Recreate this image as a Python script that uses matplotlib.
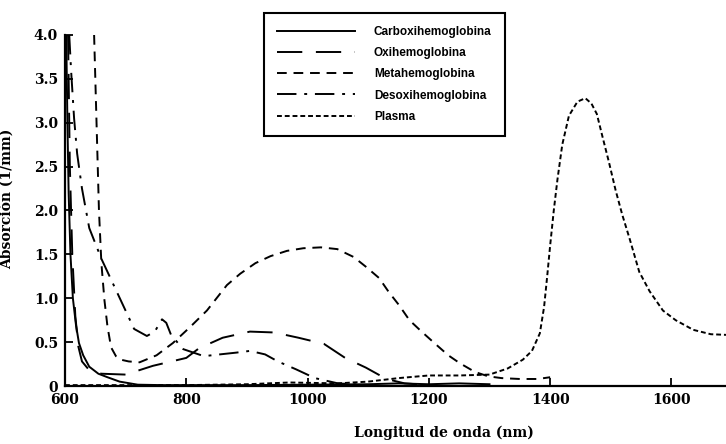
import matplotlib
matplotlib.use("Agg")
import matplotlib.pyplot as plt
import numpy as np

# datos
wl_carboxi = [602, 604, 606, 609, 613, 618, 623, 630, 640, 655, 670, 690, 720, 760, 800, 900, 1000, 1100, 1150, 1200, 1250, 1300]
ab_carboxi = [4.0, 3.0, 2.2, 1.5, 1.0, 0.7, 0.49, 0.35, 0.22, 0.14, 0.10, 0.05, 0.015, 0.01, 0.01, 0.01, 0.015, 0.02, 0.03, 0.02, 0.03, 0.02]

wl_oxi = [605, 608, 612, 617, 622, 628, 640, 660, 700, 745, 800, 821, 860, 905, 945, 985, 1027, 1062, 1096, 1130, 1160, 1200]
ab_oxi = [4.0, 2.5, 1.5, 0.8, 0.45, 0.28, 0.18, 0.14, 0.13, 0.23, 0.32, 0.43, 0.55, 0.62, 0.61, 0.55, 0.48, 0.32, 0.21, 0.08, 0.03, 0.01]

wl_meta = [648, 652, 656, 660, 665, 670, 676, 684, 692, 705, 723, 751, 778, 806, 834, 867, 889, 914, 939, 966, 993,
           1022, 1049, 1076, 1096, 1118, 1134, 1151, 1168, 1188, 1209, 1232, 1251, 1276, 1298, 1320, 1350, 1380, 1400]
ab_meta = [4.0, 3.0, 2.0, 1.4, 0.98, 0.68, 0.44, 0.34, 0.30, 0.28, 0.27, 0.35, 0.49, 0.67, 0.86, 1.15, 1.28, 1.40, 1.48, 1.54, 1.57,
           1.58, 1.56, 1.47, 1.36, 1.23, 1.07, 0.92, 0.75, 0.62, 0.49, 0.35, 0.26, 0.16, 0.11, 0.09, 0.08, 0.08, 0.10]

wl_desoxi = [607, 610, 615, 620, 628, 640, 660, 687, 714, 735, 748, 760, 767, 775, 795, 829, 855, 882, 905, 930, 951, 981, 1012, 1050, 1100]
ab_desoxi = [4.0, 3.6, 3.05, 2.65, 2.25, 1.8, 1.45, 1.05, 0.65, 0.57, 0.62, 0.76, 0.72, 0.58, 0.42, 0.34, 0.36, 0.38, 0.40, 0.36, 0.28, 0.19, 0.09, 0.03, 0.01]

wl_plasma = [600, 700, 800, 900, 970, 1050, 1100, 1150, 1200, 1250, 1300, 1330, 1355, 1370, 1383, 1390, 1395, 1400, 1406, 1412,
             1420, 1431, 1445, 1458, 1468, 1477, 1486, 1497, 1508, 1519, 1531, 1547, 1564, 1586, 1607, 1636, 1665, 1700]
ab_plasma = [0.01, 0.01, 0.01, 0.02, 0.04, 0.03, 0.05, 0.09, 0.12, 0.12, 0.13, 0.2, 0.3, 0.4, 0.6, 0.9, 1.24, 1.6, 2.0, 2.35,
             2.75, 3.08, 3.24, 3.28, 3.22, 3.1, 2.85, 2.55, 2.23, 1.95, 1.68, 1.3, 1.08, 0.86, 0.75, 0.64, 0.59, 0.58]

series_names = ["Carboxihemoglobina", "Oxihemoglobina", "Metahemoglobina", "Desoxihemoglobina", "Plasma"]

x_ticks = [600, 800, 1000, 1200, 1400, 1600]
y_ticks = [0, 0.5, 1.0, 1.5, 2.0, 2.5, 3.0, 3.5, 4.0]
y_labels = ["0", "0.5", "1.0", "1.5", "2.0", "2.5", "3.0", "3.5", "4.0"]

fig = plt.figure(figsize=(7.26, 4.44), dpi=100)
ax = fig.add_axes([65/726, 58/444, 661/726, 351/444])

lw = 1.4
ax.plot(wl_carboxi, ab_carboxi, color="black", lw=lw, linestyle="-", label=series_names[0])
ax.plot(wl_oxi, ab_oxi, color="black", lw=lw, linestyle=(0, (13, 7)), label=series_names[1])
ax.plot(wl_meta, ab_meta, color="black", lw=lw, linestyle=(0, (5, 3.5)), label=series_names[2])
ax.plot(wl_desoxi, ab_desoxi, color="black", lw=lw, linestyle=(0, (10, 4, 1.5, 4)), label=series_names[3])
ax.plot(wl_plasma, ab_plasma, color="black", lw=lw, linestyle=(0, (2.5, 1.5)), label=series_names[4])

ax.set_xlim(600, 1690)
ax.set_ylim(0, 4.0)

for s in ["top", "right"]:
    ax.spines[s].set_visible(False)
ax.spines["left"].set_linewidth(1.6)
ax.spines["bottom"].set_linewidth(1.6)

tick_font = {"family": "serif", "weight": "bold", "size": 10}
ax.set_xticks(x_ticks)
ax.set_xticklabels([str(t) for t in x_ticks], fontdict=tick_font)
ax.set_yticks(y_ticks)
ax.set_yticklabels(y_labels, fontdict=tick_font)
ax.tick_params(direction="in", length=6, width=1.3, pad=5)

ax.set_xlabel("Longitud de onda (nm)", fontdict=tick_font)
ax.xaxis.set_label_coords(0.573, -0.112)
ax.set_ylabel("Absorción (1/mm)", fontdict=tick_font)
ax.yaxis.set_label_coords(-0.078, 0.533)

leg = ax.legend(loc="upper left", bbox_to_anchor=(264/726, 1 - 13/444), bbox_transform=fig.transFigure,
                borderaxespad=0, borderpad=1.1, handlelength=6.6, handletextpad=1.6, labelspacing=0.78,
                fancybox=False, framealpha=1, edgecolor="black",
                prop={"family": "Liberation Sans", "weight": "bold", "size": 8.5})
leg.get_frame().set_linewidth(1.5)

fig.savefig("out.png", dpi=100)
